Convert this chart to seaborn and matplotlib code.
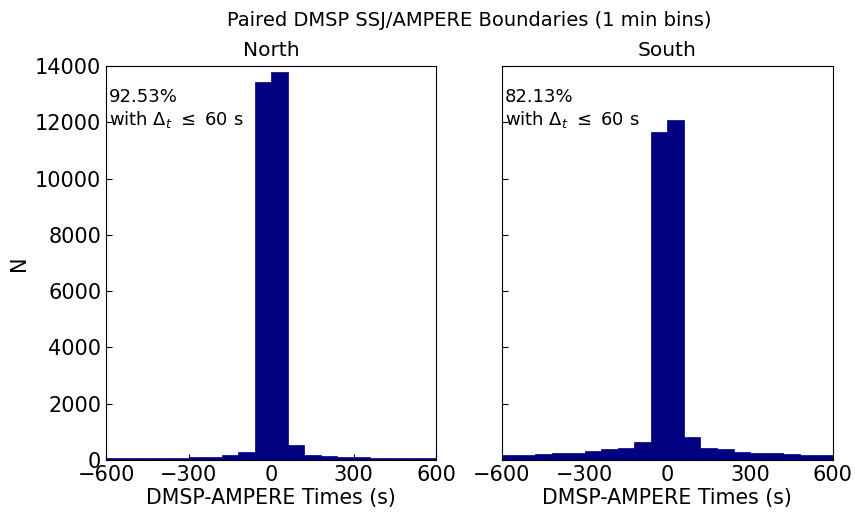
import numpy as np
import pandas as pd
import matplotlib
matplotlib.use("Agg")
import matplotlib.pyplot as plt
import seaborn as sns

# 1 min bins from -600 s to 600 s
bin_edges = list(range(-600, 601, 60))
bin_centers = [e + 30 for e in bin_edges[:-1]]

north_counts = [55, 60, 70, 75, 85, 100, 120, 160, 280, 13440, 13790,
                530, 170, 130, 100, 90, 80, 70, 60, 60]
south_counts = [170, 170, 230, 240, 240, 320, 380, 440, 640, 11650, 12070,
                800, 415, 380, 285, 250, 240, 200, 180, 170]

hemispheres = ["North", "South"]
percent_labels = ["92.53%", "82.13%"]

sns.set_style("white")
plt.rcParams['font.family'] = ['DejaVu Sans']
plt.rcParams['text.color'] = 'black'
plt.rcParams['axes.labelcolor'] = 'black'
plt.rcParams['xtick.color'] = 'black'
plt.rcParams['ytick.color'] = 'black'

fig = plt.figure(figsize=(8.55, 5.12), dpi=100)
ax_n = fig.add_axes([0.124, 0.1016, 0.386, 0.7695])
ax_s = fig.add_axes([0.587, 0.1016, 0.387, 0.7695], sharey=ax_n)

for ax, name, counts, pct in zip([ax_n, ax_s], hemispheres,
                                 [north_counts, south_counts], percent_labels):
    df = pd.DataFrame({"dt": bin_centers, "n": counts})
    sns.histplot(data=df, x="dt", weights="n", bins=bin_edges, ax=ax,
                 color="navy", alpha=1, edgecolor="navy", linewidth=0.5)
    ax.set_xlim(-600, 600)
    ax.set_ylim(0, 14000)
    ax.set_xticks([-600, -300, 0, 300, 600])
    ax.set_yticks(range(0, 14001, 2000))
    ax.tick_params(direction="in", labelsize=15, length=4, width=0.8,
                   top=False, right=False, left=True, bottom=True)
    ax.set_title(name, fontsize=14.5, pad=7)
    ax.set_xlabel("DMSP-AMPERE Times (s)", fontsize=14.8, labelpad=2)
    for sp in ax.spines.values():
        sp.set_color("black")
        sp.set_linewidth(0.8)
    ax.text(0.01, 0.945, pct + "\nwith $\\Delta_t$ $\\leq$ 60 s",
            transform=ax.transAxes, ha="left", va="top", fontsize=13,
            linespacing=1.2)

ax_n.set_ylabel("N", fontsize=15)
ax_s.set_ylabel("")
plt.setp(ax_s.get_yticklabels(), visible=False)

fig.suptitle("Paired DMSP SSJ/AMPERE Boundaries (1 min bins)", fontsize=14,
             x=0.549, y=0.978)

fig.savefig("out.png", dpi=100)
